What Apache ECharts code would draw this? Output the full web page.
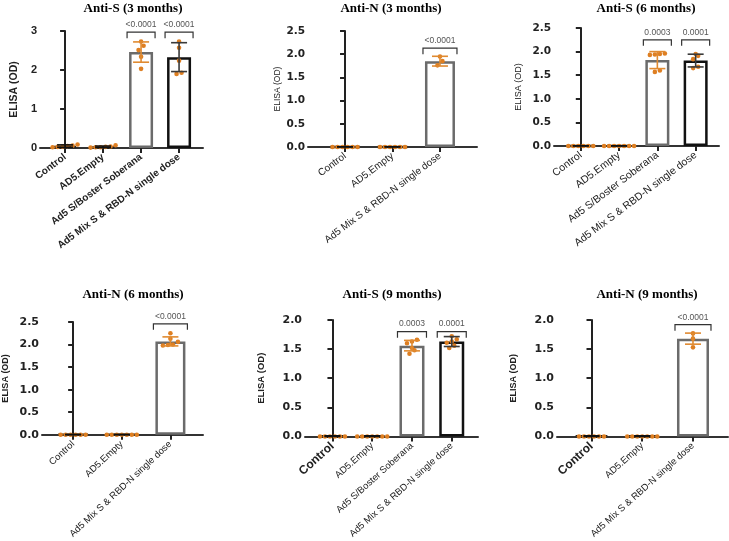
<!DOCTYPE html>
<html><head><meta charset="utf-8">
<script src="https://cdn.jsdelivr.net/npm/echarts@6/dist/echarts.min.js"></script>
<style>html,body{margin:0;padding:0;background:#fff}#c{width:729px;height:541px}</style>
</head><body><div id="c"></div>
<script>
// ---------- data ----------
const cats4 = ["Control", "AD5.Empty", "Ad5 S/Boster Soberana", "Ad5 Mix S & RBD-N single dose"];
const cats3 = ["Control", "AD5.Empty", "Ad5 Mix S & RBD-N single dose"];
const titles = ["Anti-S (3 months)", "Anti-N (3 months)", "Anti-S (6 months)", "Anti-N (6 months)", "Anti-S (9 months)", "Anti-N (9 months)"];
const yName = "ELISA (OD)";

const antiS3Ticks = [0, 1, 2, 3];
const antiS3Mean = [0.05, 0.03, 2.46, 2.33];
const antiS3Sd = [0.03, 0.02, 0.26, 0.37];
const antiS3Dots = [[0.09, 0.06, 0.04, 0.03, 0.05, 0.02], [0.07, 0.04, 0.02, 0.03, 0.01, 0.02], [2.73, 2.62, 2.51, 2.34, 2.03], [2.73, 2.57, 2.24, 1.93, 1.90]];
const antiS3PGroup = [2, 3];
const antiS3PLevel = [2.97, 2.97];
const antiS3PText = ["<0.0001", "<0.0001"];

const antiN3Ticks = [0, 0.5, 1.0, 1.5, 2.0, 2.5];
const antiN3Mean = [0.004, 0.004, 1.85];
const antiN3Sd = [0, 0, 0.105];
const antiN3Dots = [[0, 0, 0, 0, 0, 0], [0, 0, 0, 0, 0, 0], [1.95, 1.85, 1.76]];
const antiN3PGroup = [2];
const antiN3PLevel = [2.13];
const antiN3PText = ["<0.0001"];

const antiS6Ticks = [0, 0.5, 1.0, 1.5, 2.0, 2.5];
const antiS6Mean = [0.004, 0.004, 1.82, 1.81];
const antiS6Sd = [0, 0, 0.18, 0.135];
const antiS6Dots = [[0, 0, 0, 0, 0, 0], [0, 0, 0, 0, 0, 0, 0], [1.96, 1.94, 1.95, 1.93, 1.60, 1.57], [1.95, 1.91, 1.84, 1.68, 1.65]];
const antiS6PGroup = [2, 3];
const antiS6PLevel = [2.25, 2.25];
const antiS6PText = ["0.0003", "0.0001"];

const antiN6Ticks = [0, 0.5, 1.0, 1.5, 2.0, 2.5];
const antiN6Mean = [0.004, 0.004, 2.07];
const antiN6Sd = [0, 0, 0.10];
const antiN6Dots = [[0, 0, 0, 0, 0, 0], [0, 0, 0, 0, 0, 0, 0], [2.25, 2.13, 2.06, 2.00, 1.98, 1.99]];
const antiN6PGroup = [2];
const antiN6PLevel = [2.46];
const antiN6PText = ["<0.0001"];

const antiS9Ticks = [0, 0.5, 1.0, 1.5, 2.0];
const antiS9Mean = [0.004, 0.004, 1.56, 1.63];
const antiS9Sd = [0.008, 0.008, 0.09, 0.085];
const antiS9Dots = [[0, 0, 0, 0, 0, 0], [0, 0, 0, 0, 0, 0, 0], [1.66, 1.63, 1.60, 1.52, 1.48, 1.42], [1.72, 1.67, 1.63, 1.61, 1.56, 1.52]];
const antiS9PGroup = [2, 3];
const antiS9PLevel = [1.80, 1.80];
const antiS9PText = ["0.0003", "0.0001"];

const antiN9Ticks = [0, 0.5, 1.0, 1.5, 2.0];
const antiN9Mean = [0.004, 0.004, 1.68];
const antiN9Sd = [0.008, 0.008, 0.095];
const antiN9Dots = [[0, 0, 0, 0, 0, 0], [0, 0, 0, 0, 0, 0, 0], [1.77, 1.68, 1.53]];
const antiN9PGroup = [2];
const antiN9PLevel = [1.92];
const antiN9PText = ["<0.0001"];

const panels = [
  {cats: cats4, ticks: antiS3Ticks, mean: antiS3Mean, sd: antiS3Sd, dots: antiS3Dots, pg: antiS3PGroup, pl: antiS3PLevel, pt: antiS3PText},
  {cats: cats3, ticks: antiN3Ticks, mean: antiN3Mean, sd: antiN3Sd, dots: antiN3Dots, pg: antiN3PGroup, pl: antiN3PLevel, pt: antiN3PText},
  {cats: cats4, ticks: antiS6Ticks, mean: antiS6Mean, sd: antiS6Sd, dots: antiS6Dots, pg: antiS6PGroup, pl: antiS6PLevel, pt: antiS6PText},
  {cats: cats3, ticks: antiN6Ticks, mean: antiN6Mean, sd: antiN6Sd, dots: antiN6Dots, pg: antiN6PGroup, pl: antiN6PLevel, pt: antiN6PText},
  {cats: cats4, ticks: antiS9Ticks, mean: antiS9Mean, sd: antiS9Sd, dots: antiS9Dots, pg: antiS9PGroup, pl: antiS9PLevel, pt: antiS9PText},
  {cats: cats3, ticks: antiN9Ticks, mean: antiN9Mean, sd: antiN9Sd, dots: antiN9Dots, pg: antiN9PGroup, pl: antiN9PLevel, pt: antiN9PText}
];

// ---------- layout / style ----------
const SANS = "'Liberation Sans', Arial, sans-serif";
const WIDE = "'DejaVu Sans', 'Liberation Sans', sans-serif";
const SERIF = "'Liberation Serif', 'Times New Roman', serif";
const ORANGE = "#de7f22";
const layout = [
  {left: 40, top: 31, width: 163, height: 117, xMin: -0.66, xMax: 3.63, barW: 24, titleX: 128, titleY: -3,
   nameGap: 20, nameSize: 10.5, nameBold: true, yLabSize: 11, yLabFont: SANS, xLabSize: 10, xLabBold: true, rot: 37, bigControl: false, intLabels: true},
  {left: 308, top: 31, width: 169, height: 116, xMin: -0.78, xMax: 2.78, barW: 30, titleX: 386, titleY: -3,
   nameGap: 25, nameSize: 8.5, nameBold: false, yLabSize: 10.5, yLabFont: WIDE, xLabSize: 10, xLabBold: false, rot: 37, bigControl: false},
  {left: 554, top: 28, width: 165, height: 118, xMin: -0.70, xMax: 3.61, barW: 24, titleX: 641, titleY: -3,
   nameGap: 31, nameSize: 9, nameBold: false, yLabSize: 10.5, yLabFont: WIDE, xLabSize: 10.5, xLabBold: false, rot: 37, bigControl: false},
  {left: 42, top: 322, width: 161, height: 120, xMin: -0.64, xMax: 2.67, barW: 30, titleX: 128, titleY: 283,
   nameGap: 31.5, nameSize: 9, nameBold: true, yLabSize: 11, yLabFont: WIDE, xLabSize: 9.5, xLabBold: false, rot: 43, bigControl: false},
  {left: 305, top: 320, width: 173, height: 118, xMin: -0.69, xMax: 3.66, barW: 25, titleX: 387, titleY: 283,
   nameGap: 39, nameSize: 9.5, nameBold: true, yLabSize: 11, yLabFont: WIDE, xLabSize: 9.5, xLabBold: false, rot: 42, bigControl: true},
  {left: 557, top: 320, width: 171, height: 118, xMin: -0.68, xMax: 2.69, barW: 32, titleX: 642, titleY: 283,
   nameGap: 39, nameSize: 9, nameBold: true, yLabSize: 11, yLabFont: WIDE, xLabSize: 9.5, xLabBold: false, rot: 42, bigControl: true}
];

function barBorder(i, n) { return i === n - 1 && n === 4 ? "#111" : (i >= 2 ? "#6b6b6b" : "#222"); }
function errColor(i, n) { return i === n - 1 && n === 4 ? "#3a3a3a" : (i >= 2 ? "#e08a30" : "#111"); }

// beeswarm-like horizontal offsets (px) for dots with nearly equal values
function swarm(values, pxPerUnit) {
  const d = 5, thr = 4.5;
  const idx = values.map((v, i) => [v, i]).sort((a, b) => a[0] - b[0]);
  const out = new Array(values.length).fill(0);
  let row = [];
  const flush = () => { row.forEach((it, j) => { out[it[1]] = (j - (row.length - 1) / 2) * d; }); row = []; };
  idx.forEach(it => {
    if (row.length && (it[0] - row[0][0]) * pxPerUnit >= thr) flush();
    row.push(it);
  });
  flush();
  return out;
}

const option = {animation: false, backgroundColor: "#fff", title: [], grid: [], xAxis: [], yAxis: [], series: []};

panels.forEach((p, k) => {
  const L = layout[k];
  const n = p.cats.length;
  const yMax = p.ticks[p.ticks.length - 1];
  const yStep = p.ticks[1] - p.ticks[0];
  const pxPerUnit = L.height / yMax;
  option.title.push({text: titles[k], left: L.titleX, top: L.titleY, textAlign: "center",
    textStyle: {fontFamily: SERIF, fontWeight: "bold", fontSize: 13, color: "#000"}});
  option.grid.push({left: L.left, top: L.top, width: L.width, height: L.height});
  const catIdx = p.cats.map((c, i) => i);
  option.xAxis.push({type: "value", gridIndex: k, min: L.xMin, max: L.xMax,
    axisLine: {show: true, lineStyle: {color: "#333", width: 2}},
    splitLine: {show: false},
    axisTick: {show: true, customValues: catIdx, length: 5, lineStyle: {color: "#222", width: 2}},
    axisLabel: {customValues: catIdx, rotate: L.rot, margin: 8, fontFamily: SANS, fontSize: L.xLabSize,
      fontWeight: L.xLabBold ? "bold" : "normal", color: "#222",
      formatter: v => { const i = Math.round(v); const t = p.cats[i]; return (L.bigControl && i === 0) ? "{b|" + t + "}" : t; },
      rich: {b: {fontFamily: SANS, fontSize: 12, fontWeight: "bold", color: "#222"}}}
  });
  option.yAxis.push({type: "value", gridIndex: k, min: 0, max: yMax, interval: yStep,
    name: yName, nameLocation: "middle", nameRotate: 90, nameGap: L.nameGap,
    nameTextStyle: {fontFamily: SANS, fontSize: L.nameSize, fontWeight: L.nameBold ? "bold" : "normal", color: "#222"},
    axisLine: {show: true, lineStyle: {color: "#222", width: 2}},
    splitLine: {show: false},
    axisTick: {show: true, length: 5, lineStyle: {color: "#222", width: 2}},
    axisLabel: {fontFamily: L.yLabFont, fontSize: L.yLabSize, fontWeight: "bold", color: "#222", margin: 3,
      formatter: v => L.intLabels ? String(Math.round(v)) : v.toFixed(1)}
  });
  // bars
  option.series.push({type: "bar", xAxisIndex: k, yAxisIndex: k, barWidth: L.barW, z: 2,
    data: p.mean.map((m, i) => ({value: [i, m], itemStyle: {color: "#fff", borderColor: barBorder(i, n), borderWidth: 2.5}}))
  });
  // error bars
  option.series.push({type: "custom", xAxisIndex: k, yAxisIndex: k, z: 4, clip: false,
    encode: {x: 0, y: 1},
    data: p.mean.map((m, i) => [i, m, p.sd[i]]),
    renderItem: (params, api) => {
      const x = api.value(0), m = api.value(1), s = api.value(2);
      const hi = api.coord([x, m + s]), lo = api.coord([x, Math.max(0, m - s)]);
      const c = errColor(params.dataIndex, n), hw = 8;
      const st = {stroke: c, lineWidth: 1.6};
      return {type: "group", children: [
        {type: "line", shape: {x1: hi[0], y1: hi[1], x2: lo[0], y2: lo[1]}, style: st},
        {type: "line", shape: {x1: hi[0] - hw, y1: hi[1], x2: hi[0] + hw, y2: hi[1]}, style: st},
        {type: "line", shape: {x1: lo[0] - hw, y1: lo[1], x2: lo[0] + hw, y2: lo[1]}, style: st}
      ]};
    }
  });
  // dots
  const dotData = [];
  p.dots.forEach((arr, i) => { const off = swarm(arr, pxPerUnit); arr.forEach((v, j) => dotData.push([i, v, off[j]])); });
  option.series.push({type: "custom", xAxisIndex: k, yAxisIndex: k, z: 3, clip: false,
    encode: {x: 0, y: 1}, data: dotData,
    renderItem: (params, api) => {
      const c = api.coord([api.value(0), api.value(1)]);
      return {type: "circle", shape: {cx: c[0] + api.value(2), cy: c[1], r: 2.3}, style: {fill: ORANGE}};
    }
  });
  // significance brackets
  option.series.push({type: "custom", xAxisIndex: k, yAxisIndex: k, z: 5, clip: false,
    encode: {x: 0, y: 1}, data: p.pg.map((g, i) => [g, p.pl[i]]),
    renderItem: (params, api) => {
      const c = api.coord([api.value(0), api.value(1)]);
      const hw = L.barW / 2 + 2, x = c[0], y = c[1];
      return {type: "group", children: [
        {type: "polyline", shape: {points: [[x - hw, y + 6], [x - hw, y], [x + hw, y], [x + hw, y + 6]]},
         style: {stroke: "#333", lineWidth: 1.2, fill: null}},
        {type: "text", x: x, y: y - 3, style: {text: p.pt[params.dataIndex], textAlign: "center", textVerticalAlign: "bottom",
         align: "center", verticalAlign: "bottom", fontFamily: SANS, fontSize: 8.5, fill: "#555"}}
      ]};
    }
  });
});

const chart = echarts.init(document.getElementById("c"), null, {renderer: "canvas"});
chart.setOption(option);
</script>
</body></html>
